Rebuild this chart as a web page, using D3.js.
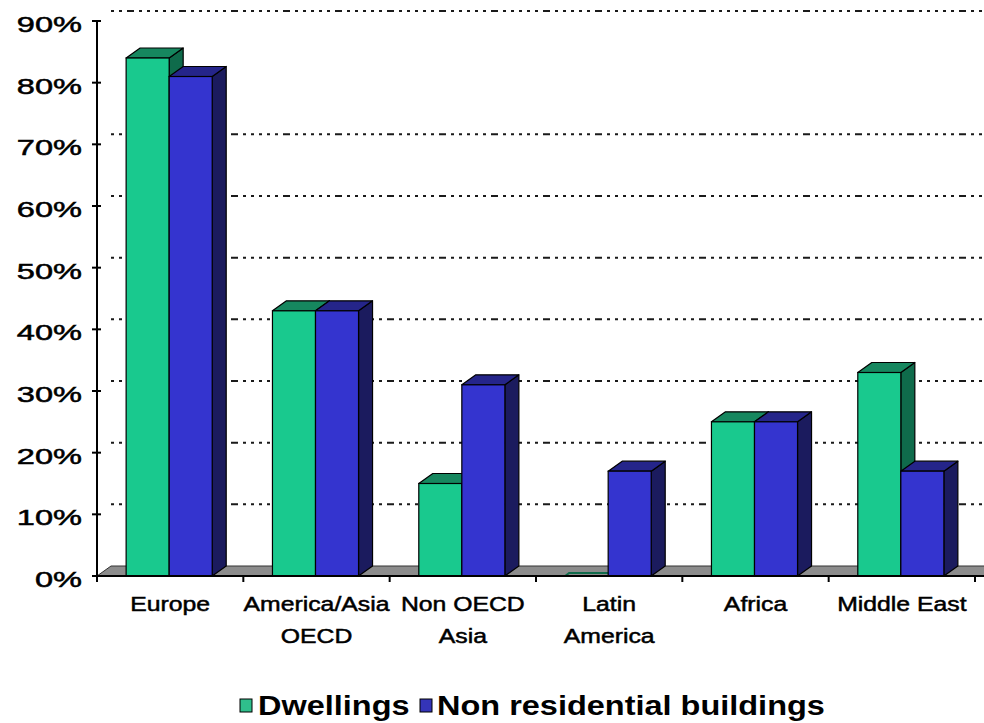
<!DOCTYPE html>
<html>
<head>
<meta charset="utf-8">
<script src="https://cdn.jsdelivr.net/npm/d3@7"></script>
<style>
  html, body { margin: 0; padding: 0; background: #ffffff; }
  svg { display: block; }
  text { font-family: Arial, "Liberation Sans", sans-serif; fill: #000; }
  .heavy { stroke: #000; stroke-width: 0.5px; }
</style>
</head>
<body>
<svg id="chart" width="984" height="723"></svg>
<script>
// Share of buildings by region, two series
const categories = ["Europe", "America/Asia OECD", "Non OECD Asia", "Latin America", "Africa", "Middle East"];
const categoryLines = [["Europe"], ["America/Asia", "OECD"], ["Non OECD", "Asia"], ["Latin", "America"], ["Africa"], ["Middle East"]];
const seriesNames = ["Dwellings", "Non residential buildings"];
const dwellings = [84, 43, 15, 0, 25, 33];
const nonResidential = [81, 43, 31, 17, 25, 17];
const yTicks = [0, 10, 20, 30, 40, 50, 60, 70, 80, 90];
const gridTicks = [10, 20, 30, 40, 50, 60, 70, 90];

const svg = d3.select("#chart");

// plot geometry
const plotLeft = 97, plotRight = 975, plotBottom = 576, plotTop = 21;
const dx = 14, dy = -10;               // 3D depth offset

const x = d3.scaleBand().domain(categories).range([plotLeft, plotRight]).padding(0);
const xs = d3.scaleBand().domain(seriesNames).range([-1, x.bandwidth() - 1]).paddingInner(0).paddingOuter(0.70);
const y = d3.scaleLinear().domain([0, 90]).range([plotBottom, plotTop]);

const palette = {
  "Dwellings": { front: "#19c98e", top: "#16875f", side: "#0f6b4b", key: "#2fbf8c" },
  "Non residential buildings": { front: "#3434cf", top: "#25258a", side: "#1b1b5e", key: "#3434b8" }
};

const pts = arr => arr.map(p => p.join(",")).join(" ");

// back wall gridlines (dotted)
svg.append("g").selectAll("line").data(gridTicks).join("line")
  .attr("x1", plotLeft + dx).attr("x2", 984)
  .attr("y1", d => y(d) + dy).attr("y2", d => y(d) + dy)
  .attr("stroke", "#1a1a1a").attr("stroke-width", 2)
  .attr("stroke-dasharray", "3 5 3 5 7 5 3 5 3 5 3 5");

// floor slab
svg.append("polygon")
  .attr("points", pts([[plotLeft, plotBottom], [plotLeft + dx, plotBottom + dy], [plotRight + dx + 20, plotBottom + dy], [plotRight + 20, plotBottom]]))
  .attr("fill", "#8c8c8c").attr("stroke", "#333").attr("stroke-width", 1);

// bars
const rows = categories.map((c, i) => ({ cat: c, values: [
  { s: seriesNames[0], v: dwellings[i] },
  { s: seriesNames[1], v: nonResidential[i] }
]}));

const barsG = svg.append("g");
rows.forEach(r => {
  r.values.forEach(d => {
    const x0 = x(r.cat) + xs(d.s), x1 = x0 + xs.bandwidth();
    const yt = y(d.v), y0 = y(0);
    const col = palette[d.s];
    const g = barsG.append("g");
    if (d.v <= 0) {
      g.append("path")
        .attr("d", `M${x0},${y0}L${x0 + 4},${y0 - 3}L${x1 + dx},${y0 - 3}`)
        .attr("fill", "none").attr("stroke", col.side).attr("stroke-width", 2);
      return;
    }
    g.append("polygon")
      .attr("points", pts([[x1, yt], [x1 + dx, yt + dy], [x1 + dx, y0 + dy], [x1, y0]]))
      .attr("fill", col.side).attr("stroke", "#000").attr("stroke-width", 1.2).attr("stroke-linejoin", "round");
    g.append("polygon")
      .attr("points", pts([[x0, yt], [x0 + dx, yt + dy], [x1 + dx, yt + dy], [x1, yt]]))
      .attr("fill", col.top).attr("stroke", "#000").attr("stroke-width", 1.2).attr("stroke-linejoin", "round");
    g.append("rect")
      .attr("x", x0).attr("y", yt).attr("width", x1 - x0).attr("height", y0 - yt)
      .attr("fill", col.front).attr("stroke", "#000").attr("stroke-width", 1.2);
  });
});

// value axis
const axisG = svg.append("g");
axisG.append("line").attr("x1", plotLeft).attr("x2", plotLeft).attr("y1", plotTop).attr("y2", plotBottom + 6)
  .attr("stroke", "#000").attr("stroke-width", 2);
axisG.selectAll("line.tick").data(yTicks).join("line").attr("class", "tick")
  .attr("x1", plotLeft - 5).attr("x2", plotLeft + 4)
  .attr("y1", d => y(d)).attr("y2", d => y(d))
  .attr("stroke", "#000").attr("stroke-width", 2);
axisG.selectAll("text").data(yTicks).join("text")
  .attr("class", "heavy")
  .attr("text-anchor", "end")
  .attr("transform", d => `translate(82,${y(d) + 11}) scale(1.48,1)`)
  .style("font-size", "22px")
  .text(d => d + "%");

// category axis
const catG = svg.append("g");
catG.append("line").attr("x1", plotLeft).attr("x2", 984).attr("y1", plotBottom).attr("y2", plotBottom)
  .attr("stroke", "#000").attr("stroke-width", 2);
const bounds = categories.map(c => x(c)).concat([plotRight]);
catG.selectAll("line.tick").data(bounds).join("line").attr("class", "tick")
  .attr("x1", d => d).attr("x2", d => d).attr("y1", plotBottom).attr("y2", plotBottom + 6)
  .attr("stroke", "#000").attr("stroke-width", 2);
categories.forEach((c, i) => {
  const cx = x(c) + x.bandwidth() / 2;
  categoryLines[i].forEach((line, j) => {
    catG.append("text")
      .attr("class", "heavy")
      .attr("text-anchor", "middle")
      .attr("transform", `translate(${cx},${611 + j * 32}) scale(1.18,1)`)
      .style("font-size", "21px")
      .text(line);
  });
});

// legend
const legend = svg.append("g");
const legendItems = [
  { s: seriesNames[0], sx: 240, tx: 258 },
  { s: seriesNames[1], sx: 420, tx: 437 }
];
legendItems.forEach(it => {
  legend.append("rect").attr("x", it.sx).attr("y", 699).attr("width", 12).attr("height", 13)
    .attr("fill", palette[it.s].key).attr("stroke", "#000").attr("stroke-width", 1);
  legend.append("text")
    .attr("transform", `translate(${it.tx},715) scale(1.16,1)`)
    .style("font-size", "28px").style("font-weight", "bold")
    .text(it.s);
});
</script>
</body>
</html>
